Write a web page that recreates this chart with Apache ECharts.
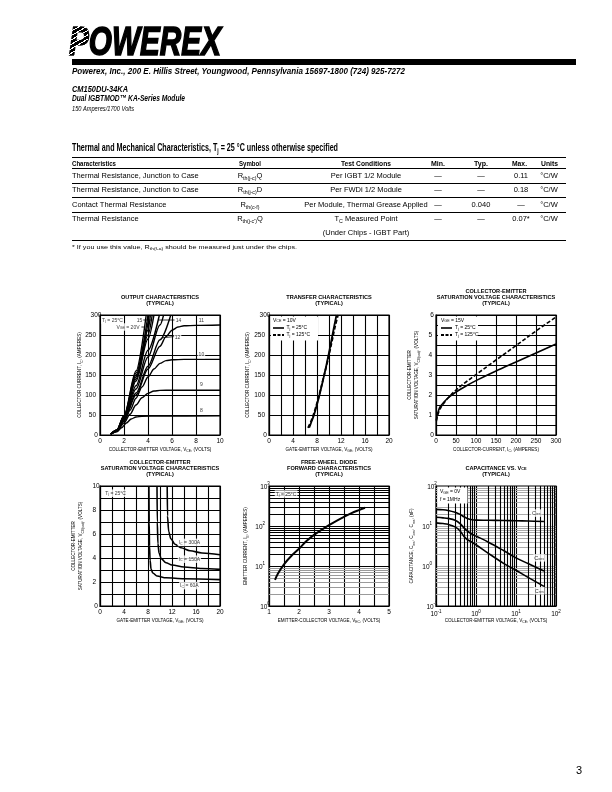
<!DOCTYPE html>
<html>
<head>
<meta charset="utf-8">
<script src="https://cdn.jsdelivr.net/npm/echarts@6.0.0/dist/echarts.min.js"></script>
<style>
html,body{margin:0;padding:0;background:#fff;}
#page{position:relative;width:612px;height:792px;overflow:hidden;background:#fff;font-family:"Liberation Sans",Arial,sans-serif;color:#000;}
#chart{position:absolute;left:0;top:0;width:612px;height:792px;}
.t{position:absolute;white-space:nowrap;line-height:1;transform-origin:0 0;}
.hl{position:absolute;background:#000;}
sub{font-size:70%;vertical-align:-0.3em;line-height:0;}
</style>
</head>
<body>
<div id="page"><div id="chart"></div></div>
<script>
// ================= DATA =================
// Output characteristics (VCE [V], IC [A]) for VGE = 8 ... 20 V
const outVge8  = [[0.9,2],[1.4,8],[1.8,18],[2.2,30],[2.6,40],[3,45],[3.5,47],[5,47.5],[10,48]];
const outVge9  = [[0.9,2],[1.4,9],[2,30],[2.5,52],[3,75],[3.5,93],[4,104],[4.5,110],[5,111.5],[6,112],[10,112]];
const outVge10 = [[0.9,2],[1.4,10],[2,34],[2.5,62],[3,92],[3.5,120],[4,145],[4.5,165],[5,179],[5.5,186],[6,188],[7,189],[10,189]];
const outVge11 = [[0.9,2],[1.4,10],[2,36],[3,100],[4,165],[5,222],[5.5,246],[6,262],[6.5,270],[7,273],[8,274],[10,275]];
const outVge12 = [[0.9,2],[1.4,11],[2,38],[3,105],[4,172],[5,238],[5.9,300]];
const outVge13 = [[0.9,2],[1.4,11],[2,40],[3,115],[4,195],[5,275],[5.3,300]];
const outVge14 = [[0.9,2],[1.4,12],[2,42],[3,123],[4,212],[4.95,300]];
const outVge15 = [[0.9,2],[1.4,12],[2,44],[3,135],[4,240],[4.5,300]];
const outVge16 = [[0.9,2],[1.4,12],[2,45],[3,140],[4,250],[4.35,300]];
const outVge17 = [[0.9,2],[1.4,12],[2,46],[3,145],[4,262],[4.2,300]];
const outVge18 = [[0.9,2],[1.4,12],[2,47],[3,150],[4.1,300]];
const outVge19 = [[0.9,2],[1.4,12],[2,48],[3,155],[4.0,300]];
const outVge20 = [[0.9,2],[1.4,12],[2,49],[3,160],[3.85,300]];
const outCurves = [outVge8,outVge9,outVge10,outVge11,outVge12,outVge13,outVge14,outVge15,outVge16,outVge17,outVge18,outVge19,outVge20];
const outNotes = [[1.04,287.5,'T{sb|j} = 25°C'],[3.3,287.5,'15'],[6.54,287.5,'14'],[8.45,287.5,'11'],
                  [2.33,270,'V{sb|GE} = 20V'],[6.46,245,'12'],[8.45,201,'10'],[8.45,126,'9'],[8.45,61,'8']];
const outLeaders = [[[3.55,287.5],[4.4,287.5]],[[4.9,287.5],[6.22,287.5]],[[3.45,270],[3.72,270]],[[5.15,243],[6.18,246]]];

// Transfer characteristics (VGE [V], IC [A])
const trans25  = [[6.7,18],[7,30],[7.5,50],[8,76],[8.5,105],[9,137],[9.5,170],[10,206],[10.5,244],[11,282],[11.25,300]];
const trans125 = [[6.5,18],[7,34],[7.5,55],[8,80],[8.5,108],[9,138],[9.5,168],[10,200],[10.5,235],[11,270],[11.5,300]];

// VCE(sat) vs IC (IC [A], VCE(sat) [V])
const satIc25  = [[1,0.75],[3,1.0],[6,1.2],[10,1.4],[20,1.65],[30,1.85],[50,2.15],[75,2.45],[100,2.72],[150,3.2],[200,3.65],[250,4.1],[300,4.55]];
const satIc125 = [[1,0.7],[3,0.9],[6,1.1],[10,1.3],[20,1.6],[30,1.85],[50,2.25],[75,2.65],[100,3.02],[150,3.75],[200,4.47],[250,5.2],[300,5.9]];

// VCE(sat) vs VGE (VGE [V], VCE(sat) [V])
const satVge60  = [[8.15,10],[8.2,7],[8.25,5],[8.35,3.8],[8.5,3.1],[8.8,2.75],[9.5,2.5],[11,2.35],[14,2.27],[20,2.2]];
const satVge150 = [[9.5,10],[9.55,7],[9.65,5.2],[9.85,4.4],[10.2,3.95],[11,3.6],[12,3.42],[14,3.25],[17,3.13],[20,3.05]];
const satVge300 = [[11.2,10],[11.25,7.5],[11.45,6.2],[11.8,5.6],[12.5,5.15],[13.5,4.85],[15,4.6],[17,4.42],[20,4.27]];
const satVgeNotes = [[2.6,9.4,'T{sb|j} = 25°C'],[14.9,5.3,'I{sb|C} = 300A'],[14.9,3.9,'I{sb|C} = 150A'],[14.9,1.7,'I{sb|C} = 60A']];

// Free-wheel diode forward (VEC [V], IE [A])
const fwdVec = [1.2,1.3,1.5,1.75,2,2.25,2.5,2.75,3,3.25,3.5,3.75,4,4.2];
const fwdIe  = [4.5,6.5,11,18,27,42,60,80,105,135,170,210,250,285];
const fwdNotes = [[1.57,631,'T{sb|j} = 25°C']];

// Capacitance vs VCE (VCE [V], C [nF])
const capVce = [0.1,0.15,0.2,0.3,0.4,0.5,0.6,0.8,1,2,5,10,20,50];
const capCies = [26,25.5,24.5,22,19.5,17,15.5,14.3,14,13.9,13.7,13.5,13.3,13];
const capCoes = [16.5,16,15.5,14,11.5,9,7.5,6.2,5.6,4.0,2.4,1.6,1.15,0.75];
const capCres = [12,11.5,11,9.5,7.5,5.5,4.6,3.9,3.4,2.1,1.15,0.78,0.52,0.31];
const capNotes = [[32,21,'C{sb|ies}'],[38,1.6,'C{sb|oes}'],[38,0.24,'C{sb|res}']];

// Minor log grid values
const minorDec1 = [2,3,4,5,6,7,8,9];
const minorDec2 = [20,30,40,50,60,70,80,90];
const minorDec3 = [200,300,400,500,600,700,800,900];
const minorDec0 = [0.2,0.3,0.4,0.5,0.6,0.7,0.8,0.9];

// Table text
const tblHead = ['Characteristics','Symbol','Test Conditions','Min.','Typ.','Max.','Units'];
const tblRows = [
 ['Thermal Resistance, Junction to Case','R<sub>th(j-c)</sub>Q','Per IGBT 1/2 Module','—','—','0.11','°C/W'],
 ['Thermal Resistance, Junction to Case','R<sub>th(j-c)</sub>D','Per FWDi 1/2 Module','—','—','0.18','°C/W'],
 ['Contact Thermal Resistance','R<sub>th(c-f)</sub>','Per Module, Thermal Grease Applied','—','0.040','—','°C/W'],
 ['Thermal Resistance','R<sub>th(j-c\')</sub>Q','T<sub>C</sub> Measured Point','—','—','0.07*','°C/W'],
 ['','','(Under Chips - IGBT Part)','','','','']
];

// ================= HTML TEXT =================
const page = document.getElementById('page');
function addText(html, x, y, o) {
  o = o || {};
  const d = document.createElement('div');
  d.className = 't';
  d.innerHTML = html;
  d.style.fontSize = (o.size || 7.5) + 'px';
  if (o.bold) d.style.fontWeight = 'bold';
  if (o.italic) d.style.fontStyle = 'italic';
  if (o.stroke) d.style.webkitTextStroke = o.stroke;
  page.appendChild(d);
  const r = d.getBoundingClientRect();
  const k = o.fit ? o.fit / r.width : (o.scale || 1);
  const ww = r.width * k;
  const left = o.align === 'center' ? x - ww / 2 : (o.align === 'right' ? x - ww : x);
  d.style.left = left + 'px';
  d.style.top = (y - r.height / 2) + 'px';
  d.style.transform = 'scaleX(' + k + ')';
  return d;
}
function hline(x1, x2, y, th) {
  const d = document.createElement('div');
  d.className = 'hl';
  d.style.left = x1 + 'px'; d.style.width = (x2 - x1) + 'px';
  d.style.top = (y - th / 2) + 'px'; d.style.height = th + 'px';
  page.appendChild(d);
}
// Logo
addText('POWEREX', 69, 41, {size: 40, bold: true, italic: true, fit: 152, stroke: '1.6px #000'});
const stripes = document.createElement('div');
stripes.style.cssText = 'position:absolute;left:66px;top:26px;width:22px;height:31px;background:repeating-linear-gradient(150deg, rgba(255,255,255,0) 0 2.8px, #fff 2.8px 3.8px);';
page.appendChild(stripes);
hline(72, 576, 62, 6);
addText('Powerex, Inc., 200 E. Hillis Street, Youngwood, Pennsylvania 15697-1800 (724) 925-7272', 72, 71.5, {size: 8.5, bold: true, italic: true, fit: 333});
addText('CM150DU-34KA', 72, 89, {size: 8.5, bold: true, italic: true, fit: 56});
addText('Dual IGBTMOD™ KA-Series Module', 72, 98.5, {size: 8.5, bold: true, italic: true, fit: 113});
addText('150 Amperes/1700 Volts', 72, 108, {size: 7, italic: true, fit: 62});
addText('Thermal and Mechanical Characteristics, T<sub>j</sub> = 25 °C unless otherwise specified', 72, 147, {size: 10.5, bold: true, fit: 266});
// Table
const colX = [72, 250, 366, 438, 481, 519, 549];
const headFit = [44, 22, 50, 14, 14, 15, 17];
hline(72, 566, 157.5, 1.6);
tblHead.forEach((h, i) => addText(h, colX[i], 163, {size: 7, bold: true, fit: headFit[i], align: i === 0 ? 'left' : 'center'}));
hline(72, 566, 168.5, 0.8);
const rowY = [176, 190, 205, 219, 233];
tblRows.forEach((row, r) => row.forEach((c, i) => {
  if (!c) return;
  addText(c, i === 5 ? 521 : colX[i], rowY[r], {size: 7.5, align: i === 0 ? 'left' : 'center'});
}));
hline(72, 566, 183, 0.8);
hline(72, 566, 197, 0.8);
hline(72, 566, 212, 0.8);
hline(72, 566, 240.5, 0.8);
addText('* If you use this value, R<sub>th(f-a)</sub> should be measured just under the chips.', 72, 247, {size: 6, fit: 225});
addText('3', 579, 770, {size: 11, align: 'center'});

// ================= CHARTS =================
const F = '"Liberation Sans", Arial, sans-serif';
const chart = echarts.init(document.getElementById('chart'), null, {renderer: 'canvas', width: 612, height: 792});
const GRIDPOS = [[100, 315], [269, 315], [436, 315], [100, 486], [269, 486], [436, 486]];
const grids = GRIDPOS.map(p => ({left: p[0], top: p[1], width: 120, height: 120, show: true, borderColor: '#000', borderWidth: 1.2,
  backgroundColor: 'rgba(0,0,0,0)', containLabel: false, outerBoundsMode: 'none'}));

const SUBRICH = {sb: {fontSize: 3.4, fontFamily: F, color: '#000', lineHeight: 3, verticalAlign: 'bottom'}};
const NOTERICH = {sb: {fontSize: 3.6, fontFamily: F, color: '#000', lineHeight: 4, verticalAlign: 'bottom'}};
const SUPRICH = {b: {fontSize: 6.5, fontFamily: F, color: '#000', lineHeight: 9, verticalAlign: 'bottom'},
                 s: {fontSize: 4.5, fontFamily: F, color: '#000', lineHeight: 5, verticalAlign: 'top'}};

function baseAxis(gi, pos, name, gap, splitColor) {
  return {
    gridIndex: gi, position: pos,
    axisLine: {show: true, onZero: false, lineStyle: {color: '#000', width: 1.2}},
    axisTick: {show: false},
    splitLine: {show: true, lineStyle: {color: splitColor || '#000', width: 1.1}},
    name: name, nameLocation: 'middle', nameGap: gap, nameMoveOverlap: false,
    nameTextStyle: {fontSize: 4.6, fontFamily: F, color: '#000', lineHeight: 7, rich: SUBRICH}
  };
}
function linAxis(gi, pos, min, max, interval, every, name, gap) {
  const a = baseAxis(gi, pos, name, gap);
  Object.assign(a, {type: 'value', min: min, max: max, interval: interval,
    axisLabel: {show: true, margin: pos === 'left' ? 4 : 3, fontSize: 6.5, fontFamily: F, color: '#000',
      alignMinLabel: 'center', alignMaxLabel: 'center',
      formatter: v => { const r = v / every; return Math.abs(r - Math.round(r)) < 1e-6 ? String(Math.round(v * 100) / 100) : ''; }}});
  return a;
}
function logAxis(gi, pos, min, max, name, gap, splitColor) {
  const a = baseAxis(gi, pos, name, gap, splitColor);
  if (splitColor) { a.splitLine.showMinLine = false; a.splitLine.showMaxLine = false; }
  Object.assign(a, {type: 'log', logBase: 10, min: min, max: max,
    axisLabel: {show: true, margin: pos === 'left' ? 4 : 3, fontSize: 6.5, fontFamily: F, color: '#000', rich: SUPRICH,
      alignMinLabel: 'center', alignMaxLabel: 'center',
      formatter: v => '{b|10}{s|' + Math.round(Math.log10(v)) + '}'}});
  return a;
}
function curve(gi, data, o) {
  o = o || {};
  return {type: 'line', xAxisIndex: gi, yAxisIndex: gi, data: data, symbol: 'none', showSymbol: false,
    smooth: o.smooth === undefined ? 0.35 : o.smooth, smoothMonotone: o.mono,
    lineStyle: {color: '#000', width: o.w || 1.5, type: o.dash ? [4, 2] : 'solid', cap: 'butt'},
    z: 3, silent: true, clip: true, animation: false};
}
function notes(gi, arr, size) {
  return {type: 'scatter', xAxisIndex: gi, yAxisIndex: gi, symbolSize: 0, silent: true, z: 6, animation: false,
    data: arr.map(a => ({value: [a[0], a[1]], name: a[2]})),
    label: {show: true, position: 'inside', formatter: p => p.name, fontSize: size || 5, fontFamily: F, color: '#000',
      backgroundColor: '#fff', padding: [1, 1, 0.5, 1], lineHeight: 6, rich: NOTERICH}};
}
function gridLines(gi, axis, vals, color) {
  return {type: 'line', xAxisIndex: gi, yAxisIndex: gi, data: [], silent: true, animation: false,
    markLine: {silent: true, symbol: ['none', 'none'], z: 1, animation: false, label: {show: false},
      emphasis: {disabled: true}, lineStyle: {color: color, width: 1.1, type: 'solid'},
      data: vals.map(v => { const o = {}; o[axis] = v; return o; })}};
}
const zip = (xs, ys) => xs.map((x, i) => [x, ys[i]]);

const xAxes = [
  linAxis(0, 'bottom', 0, 10, 2, 2, 'COLLECTOR-EMITTER VOLTAGE, V{sb|CE}, (VOLTS)', 11),
  linAxis(1, 'bottom', 0, 20, 2, 4, 'GATE-EMITTER VOLTAGE, V{sb|GE}, (VOLTS)', 11),
  linAxis(2, 'bottom', 0, 300, 50, 50, 'COLLECTOR-CURRENT, I{sb|C}, (AMPERES)', 11),
  linAxis(3, 'bottom', 0, 20, 2, 4, 'GATE-EMITTER VOLTAGE, V{sb|GE}, (VOLTS)', 11),
  linAxis(4, 'bottom', 1, 5, 0.5, 1, 'EMITTER-COLLECTOR VOLTAGE, V{sb|EC}, (VOLTS)', 11),
  logAxis(5, 'bottom', 0.1, 100, 'COLLECTOR-EMITTER VOLTAGE, V{sb|CE}, (VOLTS)', 11)
];
const yAxes = [
  linAxis(0, 'left', 0, 300, 50, 50, 'COLLECTOR CURRENT, I{sb|C}, (AMPERES)', 16.5),
  linAxis(1, 'left', 0, 300, 50, 50, 'COLLECTOR CURRENT, I{sb|C}, (AMPERES)', 17.5),
  linAxis(2, 'left', 0, 6, 0.5, 1, 'COLLECTOR-EMITTER\nSATURATION VOLTAGE, V{sb|CE(sat)}, (VOLTS)', 15.5),
  linAxis(3, 'left', 0, 10, 1, 2, 'COLLECTOR-EMITTER\nSATURATION VOLTAGE, V{sb|CE(sat)}, (VOLTS)', 15.5),
  logAxis(4, 'left', 1, 1000, 'EMITTER CURRENT, I{sb|E}, (AMPERES)', 19.5),
  logAxis(5, 'left', 0.1, 100, 'CAPACITANCE, C{sb|ies}, C{sb|oes}, C{sb|res}, (nF)', 20.5, '#aaa')
];

const series = [];
// Chart 1
outCurves.forEach(c => series.push(curve(0, c, {w: 1.4, smooth: 0.3, mono: 'x'})));
outLeaders.forEach(l => series.push(curve(0, l, {w: 0.8, smooth: false})));
series.push(notes(0, outNotes));
// Chart 2
series.push(curve(1, trans25, {w: 1.8}));
series.push(curve(1, trans125, {w: 1.8, dash: true}));
// Chart 3
series.push(curve(2, satIc25, {w: 1.6}));
series.push(curve(2, satIc125, {w: 1.6, dash: true}));
// Chart 4
series.push(curve(3, satVge60, {w: 1.6, smooth: 0.3, mono: 'x'}));
series.push(curve(3, satVge150, {w: 1.6, smooth: 0.3, mono: 'x'}));
series.push(curve(3, satVge300, {w: 1.6, smooth: 0.3, mono: 'x'}));
series.push(notes(3, satVgeNotes));
// Chart 5
series.push(gridLines(4, 'yAxis', minorDec1, '#9a9a9a'));
series.push(gridLines(4, 'yAxis', minorDec2.concat(minorDec3), '#000'));
series.push(curve(4, zip(fwdVec, fwdIe), {w: 2}));
series.push(notes(4, fwdNotes));
// Chart 6
series.push(gridLines(5, 'yAxis', minorDec0.concat(minorDec1, minorDec2), '#aaa'));
series.push(gridLines(5, 'xAxis', minorDec0.concat(minorDec1, minorDec2), '#000'));
series.push(curve(5, zip(capVce, capCies), {w: 1.6}));
series.push(curve(5, zip(capVce, capCoes), {w: 1.6}));
series.push(curve(5, zip(capVce, capCres), {w: 1.6}));
series.push(notes(5, capNotes, 5.5));

// Graphic: titles and legends
const G = [];
function gtext(x, y, text, o) {
  o = o || {};
  G.push({type: 'text', x: x, y: y, z: 100, silent: true,
    style: {text: text, fill: '#000', font: (o.bold ? 'bold ' : '') + (o.size || 5) + 'px ' + F,
      align: o.align || 'center', verticalAlign: 'middle', textAlign: o.align || 'center', textVerticalAlign: 'middle',
      rich: {sb: {fontSize: o.sub || 3.6, fontFamily: F, fontWeight: o.bold ? 'bold' : 'normal', fill: '#000', lineHeight: 4, verticalAlign: 'bottom'}}}});
}
function grect(x, y, w, h) { G.push({type: 'rect', z: 90, silent: true, shape: {x: x, y: y, width: w, height: h}, style: {fill: '#fff'}}); }
function gline(x1, y1, x2, y2, dash) { G.push({type: 'line', z: 95, silent: true, shape: {x1: x1, y1: y1, x2: x2, y2: y2},
  style: {stroke: '#000', lineWidth: dash ? 1.8 : 1.6, lineDash: dash ? [3, 1.5] : null}}); }

const TS = 5.6;
gtext(160, 297, 'OUTPUT CHARACTERISTICS', {bold: true, size: TS});
gtext(160, 303, '(TYPICAL)', {bold: true, size: TS});
gtext(329, 297, 'TRANSFER CHARACTERISTICS', {bold: true, size: TS});
gtext(329, 303, '(TYPICAL)', {bold: true, size: TS});
gtext(496, 291, 'COLLECTOR-EMITTER', {bold: true, size: TS});
gtext(496, 297, 'SATURATION VOLTAGE CHARACTERISTICS', {bold: true, size: TS});
gtext(496, 303, '(TYPICAL)', {bold: true, size: TS});
gtext(160, 462, 'COLLECTOR-EMITTER', {bold: true, size: TS});
gtext(160, 468, 'SATURATION VOLTAGE CHARACTERISTICS', {bold: true, size: TS});
gtext(160, 474, '(TYPICAL)', {bold: true, size: TS});
gtext(329, 462, 'FREE-WHEEL DIODE', {bold: true, size: TS});
gtext(329, 468, 'FORWARD CHARACTERISTICS', {bold: true, size: TS});
gtext(329, 474, '(TYPICAL)', {bold: true, size: TS});
gtext(496, 468, 'CAPACITANCE VS. V{sb|CE}', {bold: true, size: TS, sub: 3.8});
gtext(496, 474, '(TYPICAL)', {bold: true, size: TS});

// Legend chart 2
grect(271, 316.5, 47, 24);
gtext(273, 320.5, 'V{sb|CE} = 10V', {align: 'left'});
gline(273, 328, 284, 328, false);
gtext(286.5, 328, 'T{sb|j} = 25°C', {align: 'left'});
gline(273, 335, 284, 335, true);
gtext(286.5, 335, 'T{sb|j} = 125°C', {align: 'left'});
// Legend chart 3
grect(438, 316.5, 40, 24);
gtext(441, 320.5, 'V{sb|GE} = 15V', {align: 'left'});
gline(441, 328, 452, 328, false);
gtext(455, 328, 'T{sb|j} = 25°C', {align: 'left'});
gline(441, 335, 452, 335, true);
gtext(455, 335, 'T{sb|j} = 125°C', {align: 'left'});
// Legend chart 6
grect(437.5, 487.5, 30, 16);
gtext(440, 492, 'V{sb|GE} = 0V', {align: 'left'});
gtext(440, 499.5, 'f = 1MHz', {align: 'left'});

chart.setOption({
  animation: false,
  grid: grids,
  xAxis: xAxes,
  yAxis: yAxes,
  series: series,
  graphic: {elements: G}
});
</script>
</body>
</html>
